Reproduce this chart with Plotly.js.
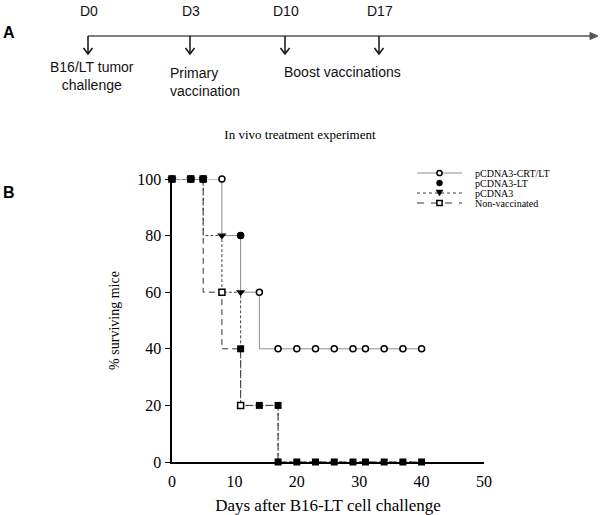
<!DOCTYPE html>
<html><head><meta charset="utf-8">
<script src="https://cdn.plot.ly/plotly-3.0.1.min.js"></script>
<style>html,body{margin:0;padding:0;background:#fff}</style>
</head><body><div id="chart" style="width:600px;height:515px"></div>
<script>
// ---- data ----
const seriesNames = ["pCDNA3-CRT/LT", "pCDNA3-LT", "pCDNA3", "Non-vaccinated"];
// survival step curves (day, % surviving)
const crtLineDays = [0, 8, 8, 11, 11, 14, 14, 40];
const crtLineSurv = [100, 100, 80, 80, 60, 60, 40, 40];
const pc3LineDays = [0, 5, 5, 8, 8, 11, 11, 17, 17, 40];
const pc3LineSurv = [100, 100, 80, 80, 60, 60, 20, 20, 0, 0];
const nvLineDays = [0, 5, 5, 8, 8, 11, 11, 17, 17, 40];
const nvLineSurv = [100, 100, 60, 60, 40, 40, 20, 20, 0, 0];
// observation markers
const crtMarkDays = [0, 3, 5, 8, 11, 14, 17, 20, 23, 26, 29, 31, 34, 37, 40];
const crtMarkSurv = [100, 100, 100, 100, 80, 60, 40, 40, 40, 40, 40, 40, 40, 40, 40];
const ltMarkDays = [0, 3, 5, 11, 11, 14, 17, 17, 20, 23, 26, 29, 31, 34, 37, 40];
const ltMarkSurv = [100, 100, 100, 80, 40, 20, 20, 0, 0, 0, 0, 0, 0, 0, 0, 0];
const pc3MarkDays = [0, 3, 5, 8, 11];
const pc3MarkSurv = [100, 100, 100, 80, 60];
const nvMarkDays = [0, 3, 5, 8, 11];
const nvMarkSurv = [100, 100, 100, 60, 20];
// axes
const xTicks = [0, 10, 20, 30, 40, 50];
const yTicks = [0, 20, 40, 60, 80, 100];
// panel A timeline
const timelineLabels = ["D0", "D3", "D10", "D17"];
const timelineNotes = ["B16/LT tumor<br>challenge", "Primary<br>vaccination", "Boost vaccinations"];

// ---- layout helpers (pixel -> paper) ----
const W = 600, H = 515;
const px = X => X / W;
const py = Y => 1 - Y / H;
const SERIF = "Liberation Serif, Times New Roman, serif";
const SANS = "Liberation Sans, Arial, sans-serif";

const traces = [];
// lines
traces.push({x: nvLineDays, y: nvLineSurv, mode: "lines", line: {color: "#333", width: 1, dash: "6px,4px"}, hoverinfo: "skip", cliponaxis: false});
traces.push({x: pc3LineDays, y: pc3LineSurv, mode: "lines", line: {color: "#444", width: 1, dash: "3px,2px"}, hoverinfo: "skip", cliponaxis: false});
traces.push({x: crtLineDays, y: crtLineSurv, mode: "lines", line: {color: "#8c8c8c", width: 1}, hoverinfo: "skip", cliponaxis: false});
// markers
traces.push({x: nvMarkDays, y: nvMarkSurv, mode: "markers", name: seriesNames[3], cliponaxis: false,
  marker: {symbol: "square", size: 6, color: "#fff", line: {color: "#000", width: 1.5}}});
traces.push({x: pc3MarkDays, y: pc3MarkSurv, mode: "markers", name: seriesNames[2], cliponaxis: false,
  marker: {symbol: "triangle-down", size: 8, color: "#000"}});
traces.push({x: crtMarkDays, y: crtMarkSurv, mode: "markers", name: seriesNames[0], cliponaxis: false,
  marker: {symbol: "circle", size: 6, color: "#fff", line: {color: "#000", width: 1.5}}});
traces.push({x: ltMarkDays, y: ltMarkSurv, mode: "markers", name: seriesNames[1], cliponaxis: false,
  marker: {symbol: ltMarkSurv.map(v => v >= 80 ? "circle" : "square"), size: 7, color: "#000"}});

const annotations = [];
const shapes = [];

// manual compact legend (shapes + text)
const legX0 = 417, legX1 = 462, legTextX = 473, legY0 = 173, legDY = 10;
const legMid = (legX0 + legX1) / 2;
const legLines = [
  {color: "#8c8c8c", width: 1, dash: "solid"},
  null,
  {color: "#444", width: 1, dash: "3px,3px"},
  {color: "#333", width: 1, dash: "7px,7px"}
];
seriesNames.forEach((name, i) => {
  const yy = legY0 + i * legDY;
  if (legLines[i]) shapes.push({type: "line", xref: "paper", yref: "paper", x0: px(legX0), x1: px(legX1), y0: py(yy), y1: py(yy), line: legLines[i]});
  if (i === 0) shapes.push({type: "circle", xref: "paper", yref: "paper", x0: px(legMid - 2.6), x1: px(legMid + 2.6), y0: py(yy - 2.6), y1: py(yy + 2.6),
    fillcolor: "#fff", line: {color: "#000", width: 1.5}});
  if (i === 1) shapes.push({type: "circle", xref: "paper", yref: "paper", x0: px(legMid - 3), x1: px(legMid + 3), y0: py(yy - 3), y1: py(yy + 3),
    fillcolor: "#000", line: {color: "#000", width: 0.5}});
  if (i === 2) shapes.push({type: "path", xref: "paper", yref: "paper",
    path: `M ${px(legMid - 3.5)},${py(yy - 3)} L ${px(legMid + 3.5)},${py(yy - 3)} L ${px(legMid)},${py(yy + 3)} Z`,
    fillcolor: "#000", line: {color: "#000", width: 0.5}});
  if (i === 3) shapes.push({type: "rect", xref: "paper", yref: "paper", x0: px(legMid - 2.6), x1: px(legMid + 2.6), y0: py(yy - 2.6), y1: py(yy + 2.6),
    fillcolor: "#fff", line: {color: "#000", width: 1.5}});
  annotations.push({xref: "paper", yref: "paper", x: px(legTextX), y: py(yy), xanchor: "left", yanchor: "middle",
    text: name, showarrow: false, font: {family: SERIF, size: 10, color: "#000"}});
});

// Panel A texts
const tlY = 36;
const tlXs = [88, 190, 285, 379];
timelineLabels.forEach((t, i) => annotations.push({xref: "paper", yref: "paper", x: px(tlXs[i] + 1), y: py(11),
  xanchor: "center", yanchor: "middle", text: t, showarrow: false, font: {family: SANS, size: 14, color: "#111"}}));
annotations.push({xref: "paper", yref: "paper", x: px(92), y: py(76), xanchor: "center", yanchor: "middle", align: "center",
  text: timelineNotes[0], showarrow: false, font: {family: SANS, size: 14, color: "#111"}});
annotations.push({xref: "paper", yref: "paper", x: px(168), y: py(82), xanchor: "left", yanchor: "middle", align: "left",
  text: timelineNotes[1], showarrow: false, font: {family: SANS, size: 14, color: "#111"}});
annotations.push({xref: "paper", yref: "paper", x: px(282), y: py(72), xanchor: "left", yanchor: "middle", align: "left",
  text: timelineNotes[2], showarrow: false, font: {family: SANS, size: 14, color: "#111"}});
annotations.push({xref: "paper", yref: "paper", x: px(1), y: py(32), xanchor: "left", yanchor: "middle",
  text: "<b>A</b>", showarrow: false, font: {family: SANS, size: 16, color: "#000"}});
annotations.push({xref: "paper", yref: "paper", x: px(1), y: py(192), xanchor: "left", yanchor: "middle",
  text: "<b>B</b>", showarrow: false, font: {family: SANS, size: 16, color: "#000"}});

shapes.push({type: "line", xref: "paper", yref: "paper", x0: px(88), x1: px(592), y0: py(tlY), y1: py(tlY), line: {color: "#555", width: 1.5}});
shapes.push({type: "path", xref: "paper", yref: "paper",
  path: `M ${px(590)},${py(tlY - 3.5)} L ${px(598)},${py(tlY)} L ${px(590)},${py(tlY + 3.5)} Z`,
  fillcolor: "#555", line: {color: "#555", width: 1}});
tlXs.forEach(x => {
  shapes.push({type: "line", xref: "paper", yref: "paper", x0: px(x), x1: px(x), y0: py(tlY), y1: py(tlY + 18), line: {color: "#111", width: 1.5}});
  shapes.push({type: "path", xref: "paper", yref: "paper",
    path: `M ${px(x - 4.5)},${py(tlY + 12)} L ${px(x)},${py(tlY + 18)} L ${px(x + 4.5)},${py(tlY + 12)}`,
    line: {color: "#111", width: 1.5}});
});

const layout = {
  width: W, height: H,
  margin: {l: 0, r: 0, t: 0, b: 0},
  paper_bgcolor: "#fff", plot_bgcolor: "rgba(0,0,0,0)",
  showlegend: false,
  title: {text: "In vivo treatment experiment", x: 0.5, xanchor: "center", y: py(134), yanchor: "middle",
    font: {family: SERIF, size: 13, color: "#000"}},
  xaxis: {domain: [px(172), px(484)], range: [0, 50], tickvals: xTicks, ticks: "outside", ticklen: 4, tickcolor: "rgba(0,0,0,0)",
    showgrid: false, zeroline: false, showline: true, linecolor: "#000", linewidth: 1.5,
    tickfont: {family: SERIF, size: 16, color: "#000"},
    title: {text: "Days after B16-LT cell challenge", standoff: 20, font: {family: SERIF, size: 17, color: "#000"}}},
  yaxis: {domain: [py(462), py(179)], range: [0, 100], tickvals: yTicks, ticks: "outside", ticklen: 5, tickcolor: "#000",
    showgrid: false, zeroline: false, showline: true, linecolor: "#000", linewidth: 2.5,
    tickfont: {family: SERIF, size: 16, color: "#000"},
    title: {text: "% surviving mice", standoff: 15, font: {family: SERIF, size: 14, color: "#000"}}},
  annotations: annotations,
  shapes: shapes
};

Plotly.newPlot("chart", traces, layout, {staticPlot: true, displayModeBar: false});
</script></body></html>
